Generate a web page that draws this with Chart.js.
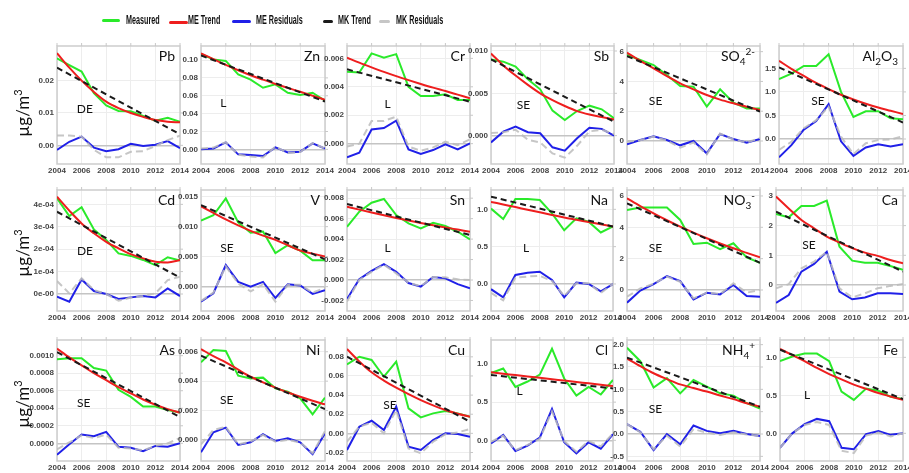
<!DOCTYPE html>
<html><head><meta charset="utf-8">
<script src="https://cdn.jsdelivr.net/npm/chart.js@4.4.1/dist/chart.umd.min.js"></script>
<style>
html,body{margin:0;padding:0;background:#fff;}
#wrap{position:relative;width:909px;height:473px;overflow:hidden;background:#fff;}
#wrap canvas{position:absolute;}
.ylab{position:absolute;font:17px Lato,sans-serif;color:#111;transform:translate(-50%,-50%) rotate(-90deg);white-space:nowrap;}
.sw{position:absolute;border-radius:2px;}
.lt{position:absolute;font:bold 12px "Liberation Sans",Arial,sans-serif;color:#111;line-height:14px;white-space:nowrap;transform:scaleX(0.6);transform-origin:left center;}
</style></head>
<body><div id="wrap"></div>
<script>
// ---------------- DATA ----------------
const years = [2004,2005,2006,2007,2008,2009,2010,2011,2012,2013,2014];
const mkYears = [2004,2014];
const xTicks = [2004,2006,2008,2010,2012,2014];
const xTickLabels = ['2004','2006','2008','2010','2012','2014'];

const panelNames = ['Pb','Zn','Cr','Sb','SO_{4}^{2-}','Al_{2}O_{3}','Cd','V','Sn','Na','NO_{3}^{-}','Ca','As','Ni','Cu','Cl','NH_{4}^{+}','Fe'];
const trendTypes = ['DE','L','L','SE','SE','SE','DE','SE','L','L','SE','SE','SE','SE','SE','L','SE','L'];

const Pb_measured = [0.0269,0.0248,0.0228,0.0161,0.0123,0.0106,0.0105,0.0091,0.0076,0.0085,0.0073];
const Pb_meTrend  = [0.0285,0.0240,0.0200,0.0165,0.0135,0.0115,0.0100,0.0088,0.0078,0.0073,0.0071];
const Pb_mkTrend  = [0.0240,0.0034];
const Pb_meResid  = [-0.0014,0.0011,0.0027,-0.0007,-0.0018,-0.0012,0.0005,-0.0002,0.0002,0.0013,-0.0009];
const Pb_mkResid  = [0.0030,0.0030,0.0027,-0.0014,-0.0037,-0.0037,-0.0020,-0.0018,-0.0002,0.0016,0.0030];
const Pb_yTicks = [0,0.01,0.02];
const Pb_yTickLabels = ['0.00','0.01','0.02'];

const Zn_measured = [0.1067,0.1007,0.0990,0.0840,0.0780,0.0690,0.0728,0.0634,0.0608,0.0634,0.0545];
const Zn_meTrend  = [0.1075,0.1010,0.0945,0.0885,0.0830,0.0780,0.0732,0.0688,0.0645,0.0600,0.0555];
const Zn_mkTrend  = [0.1050,0.0535];
const Zn_meResid  = [0.0000,0.0010,0.0078,-0.0056,-0.0063,-0.0075,0.0022,-0.0034,-0.0026,0.0067,0.0010];
const Zn_mkResid  = [0.0010,0.0020,0.0080,-0.0060,-0.0080,-0.0090,0.0030,-0.0040,-0.0030,0.0070,0.0010];
const Zn_yTicks = [0,0.02,0.04,0.06,0.08,0.10];
const Zn_yTickLabels = ['0.00','0.02','0.04','0.06','0.08','0.10'];

const Cr_measured = [0.00506,0.00500,0.00635,0.00605,0.00630,0.00400,0.00335,0.00335,0.00347,0.00307,0.00307];
const Cr_meTrend  = [0.00605,0.00570,0.00537,0.00505,0.00475,0.00447,0.00420,0.00394,0.00370,0.00345,0.00320];
const Cr_mkTrend  = [0.00523,0.00295];
const Cr_meResid  = [-0.00096,-0.00063,0.00100,0.00110,0.00162,-0.00040,-0.00073,-0.00045,-0.00005,-0.00040,0.00002];
const Cr_mkResid  = [-0.00020,0.00000,0.00160,0.00160,0.00190,-0.00020,-0.00050,-0.00026,0.00014,-0.00010,0.00030];
const Cr_yTicks = [0,0.002,0.004,0.006];
const Cr_yTickLabels = ['0.000','0.002','0.004','0.006'];

const Sb_measured = [0.00900,0.00874,0.00815,0.00665,0.00547,0.00295,0.00185,0.00291,0.00354,0.00311,0.00205];
const Sb_meTrend  = [0.00970,0.00830,0.00710,0.00600,0.00500,0.00420,0.00350,0.00290,0.00250,0.00220,0.00190];
const Sb_mkTrend  = [0.00900,0.00165];
const Sb_meResid  = [-0.00080,0.00047,0.00106,0.00040,0.00028,-0.00138,-0.00177,-0.00030,0.00094,0.00080,0.00000];
const Sb_mkResid  = [0.00030,0.00040,0.00070,-0.00050,-0.00080,-0.00210,-0.00260,-0.00120,0.00050,0.00070,0.00020];
const Sb_yTicks = [0,0.005,0.010];
const Sb_yTickLabels = ['0.000','0.005','0.010'];

const SO4_measured = [5.78,5.44,5.10,4.43,3.69,3.65,2.31,3.47,2.57,2.19,2.19];
const SO4_meTrend  = [5.93,5.38,4.88,4.35,3.87,3.47,3.09,2.78,2.53,2.30,2.08];
const SO4_mkTrend  = [5.70,1.97];
const SO4_meResid  = [-0.22,0.07,0.31,0.07,-0.29,0.00,-0.83,0.47,0.13,-0.11,0.13];
const SO4_mkResid  = [-0.05,0.05,0.30,0.03,-0.45,-0.10,-0.90,0.50,0.10,-0.10,0.20];
const SO4_yTicks = [0,2,4,6];
const SO4_yTickLabels = ['0','2','4','6'];

const Al2O3_measured = [1.27,1.39,1.55,1.55,1.80,1.00,0.47,0.59,0.59,0.44,0.42];
const Al2O3_meTrend  = [1.66,1.49,1.34,1.19,1.06,0.94,0.84,0.75,0.67,0.60,0.53];
const Al2O3_mkTrend  = [1.52,0.35];
const Al2O3_meResid  = [-0.39,-0.13,0.20,0.38,0.74,-0.05,-0.36,-0.18,-0.11,-0.16,-0.11];
const Al2O3_mkResid  = [-0.23,-0.06,0.23,0.40,0.69,0.05,-0.32,-0.09,-0.02,-0.01,0.06];
const Al2O3_yTicks = [0,0.5,1.0,1.5];
const Al2O3_yTickLabels = ['0.0','0.5','1.0','1.5'];

const Cd_measured = [4.27e-4,3.48e-4,3.87e-4,2.88e-4,2.41e-4,1.81e-4,1.70e-4,1.52e-4,1.29e-4,1.64e-4,1.49e-4];
const Cd_meTrend  = [4.34e-4,3.72e-4,3.15e-4,2.71e-4,2.33e-4,2.04e-4,1.78e-4,1.59e-4,1.44e-4,1.41e-4,1.52e-4];
const Cd_mkTrend  = [3.67e-4,0.73e-4];
const Cd_meResid  = [-0.12e-4,-0.34e-4,0.65e-4,0.13e-4,0.00,-0.22e-4,-0.15e-4,-0.09e-4,-0.15e-4,0.25e-4,-0.09e-4];
const Cd_mkResid  = [0.58e-4,0.03e-4,0.70e-4,0.18e-4,0.00,-0.30e-4,-0.16e-4,-0.09e-4,0.03e-4,0.62e-4,0.77e-4];
const Cd_yTicks = [0,1e-4,2e-4,3e-4,4e-4];
const Cd_yTickLabels = ['0e-00','1e-04','2e-04','3e-04','4e-04'];

const V_measured = [0.0110,0.0119,0.0147,0.0107,0.0090,0.0092,0.0056,0.0069,0.0060,0.0044,0.0044];
const V_meTrend  = [0.0134,0.0123,0.0112,0.0102,0.0093,0.0085,0.0078,0.0069,0.0060,0.0055,0.0050];
const V_mkTrend  = [0.0136,0.00456];
const V_meResid  = [-0.0025,-0.0011,0.0036,0.0008,0.0000,0.0008,-0.0019,0.0004,0.0002,-0.0012,-0.0006];
const V_mkResid  = [-0.0024,-0.0010,0.0034,0.0005,-0.0008,0.0004,-0.0025,0.0003,0.0003,-0.0010,-0.0002];
const V_yTicks = [0,0.005,0.010,0.015];
const V_yTickLabels = ['0.000','0.005','0.010','0.015'];

const Sn_measured = [0.00520,0.00668,0.00756,0.00792,0.00635,0.00554,0.00505,0.00560,0.00528,0.00472,0.00397];
const Sn_meTrend  = [0.00717,0.00688,0.00660,0.00633,0.00607,0.00582,0.00558,0.00536,0.00514,0.00493,0.00472];
const Sn_mkTrend  = [0.00743,0.00440];
const Sn_meResid  = [-0.00186,0.00007,0.00090,0.00156,0.00080,-0.00030,-0.00065,0.00030,0.00016,-0.00040,-0.00080];
const Sn_mkResid  = [-0.00210,0.00000,0.00080,0.00150,0.00065,-0.00026,-0.00060,0.00030,0.00026,0.00007,0.00000];
const Sn_yTicks = [-0.002,0,0.002,0.004,0.006,0.008];
const Sn_yTickLabels = ['-0.002','0.000','0.002','0.004','0.006','0.008'];

const Na_measured = [1.01,0.87,1.14,1.14,1.125,0.946,0.72,0.88,0.835,0.69,0.77];
const Na_meTrend  = [1.10,1.065,1.03,0.995,0.96,0.925,0.89,0.86,0.83,0.80,0.77];
const Na_mkTrend  = [1.17,0.77];
const Na_meResid  = [-0.07,-0.18,0.12,0.15,0.165,0.054,-0.18,0.018,0.00,-0.10,0.00];
const Na_mkResid  = [-0.12,-0.22,0.085,0.10,0.11,0.04,-0.16,0.01,0.01,-0.12,0.00];
const Na_yTicks = [0,0.5,1.0];
const Na_yTickLabels = ['0.0','0.5','1.0'];

const NO3_measured = [5.10,5.26,5.26,5.26,4.47,2.94,3.02,2.60,2.98,2.08,1.74];
const NO3_meTrend  = [5.85,5.35,4.89,4.45,4.04,3.66,3.30,2.97,2.66,2.37,2.08];
const NO3_mkTrend  = [5.53,1.74];
const NO3_meResid  = [-0.81,-0.04,0.38,0.89,0.57,-0.60,-0.17,-0.28,0.32,-0.38,-0.43];
const NO3_mkResid  = [-0.43,0.10,0.40,0.85,0.53,-0.53,-0.17,-0.26,0.43,-0.17,0.00];
const NO3_yTicks = [0,2,4,6];
const NO3_yTickLabels = ['0','2','4','6'];

const Ca_measured = [2.39,2.28,2.66,2.66,2.84,1.29,0.82,0.75,0.75,0.64,0.51];
const Ca_meTrend  = [2.98,2.58,2.19,1.91,1.63,1.43,1.24,1.09,0.98,0.84,0.73];
const Ca_mkTrend  = [2.47,0.45];
const Ca_meResid  = [-0.60,-0.34,0.45,0.71,1.12,-0.22,-0.48,-0.42,-0.28,-0.28,-0.30];
const Ca_mkResid  = [-0.11,0.03,0.56,0.79,1.12,-0.11,-0.42,-0.28,-0.11,-0.03,0.03];
const Ca_yTicks = [0,1,2,3];
const Ca_yTickLabels = ['0','1','2','3'];

const As_measured = [0.00096,0.00097,0.00097,0.00086,0.00083,0.00061,0.00053,0.00042,0.00042,0.00038,0.00035];
const As_meTrend  = [0.00108,0.00098,0.00089,0.00080,0.00072,0.00064,0.00057,0.00050,0.00044,0.00039,0.00035];
const As_mkTrend  = [0.00104,0.00030];
const As_meResid  = [-0.00013,-0.00001,0.00010,0.00008,0.00013,-0.00004,-0.00005,-0.00009,-0.00003,-0.00004,0.00000];
const As_mkResid  = [-0.00007,0.00001,0.00009,0.00006,0.00010,-0.00005,-0.00006,-0.00008,-0.00003,0.00000,0.00006];
const As_yTicks = [0,0.0002,0.0004,0.0006,0.0008,0.0010];
const As_yTickLabels = ['0.0000','0.0002','0.0004','0.0006','0.0008','0.0010'];

const Ni_measured = [0.00528,0.00612,0.00605,0.00437,0.00419,0.00424,0.00351,0.00328,0.00283,0.00174,0.00288];
const Ni_meTrend  = [0.00618,0.00570,0.00528,0.00478,0.00430,0.00392,0.00356,0.00323,0.00294,0.00267,0.00242];
const Ni_mkTrend  = [0.00573,0.00210];
const Ni_meResid  = [-0.00084,0.00052,0.00084,-0.00034,-0.00016,0.00039,-0.00007,0.00011,-0.00016,-0.00097,0.00045];
const Ni_mkResid  = [-0.00030,0.00068,0.00090,-0.00030,-0.00011,0.00034,-0.00011,0.00000,-0.00016,-0.00090,0.00060];
const Ni_yTicks = [0,0.002,0.004,0.006];
const Ni_yTickLabels = ['0.000','0.002','0.004','0.006'];

const Cu_measured = [0.0721,0.0801,0.0767,0.0592,0.0749,0.0261,0.0167,0.0209,0.0233,0.0209,0.0174];
const Cu_meTrend  = [0.0882,0.0752,0.0638,0.0552,0.0477,0.0410,0.0348,0.0293,0.0244,0.0205,0.0174];
const Cu_mkTrend  = [0.0801,0.0122];
const Cu_meResid  = [-0.0174,0.0070,0.0132,0.0035,0.0279,-0.0139,-0.0174,-0.0070,0.0000,-0.0007,-0.0035];
const Cu_mkResid  = [-0.0087,0.0070,0.0110,0.0000,0.0244,-0.0157,-0.0209,-0.0087,-0.0010,0.0010,0.0045];
const Cu_yTicks = [-0.02,0,0.02,0.04,0.06,0.08];
const Cu_yTickLabels = ['-0.02','0.00','0.02','0.04','0.06','0.08'];

const Cl_measured = [0.88,0.94,0.70,0.77,0.86,1.20,0.81,0.585,0.70,0.60,0.79];
const Cl_meTrend  = [0.89,0.872,0.854,0.836,0.818,0.80,0.782,0.764,0.746,0.728,0.71];
const Cl_mkTrend  = [0.856,0.68];
const Cl_meResid  = [-0.04,0.07,-0.14,-0.07,0.035,0.41,-0.026,-0.17,-0.026,-0.11,0.08];
const Cl_mkResid  = [-0.02,0.06,-0.13,-0.06,0.02,0.38,-0.01,-0.15,-0.01,-0.08,0.09];
const Cl_yTicks = [0,0.5,1.0];
const Cl_yTickLabels = ['0.0','0.5','1.0'];

const NH4_measured = [1.93,1.63,1.04,1.25,0.91,1.21,1.06,0.91,0.86,0.69,0.57];
const NH4_meTrend  = [1.69,1.52,1.36,1.23,1.11,1.03,0.95,0.86,0.78,0.69,0.61];
const NH4_mkTrend  = [1.71,0.61];
const NH4_meResid  = [0.22,0.05,-0.36,0.00,-0.23,0.19,0.07,0.015,0.07,0.00,-0.045];
const NH4_mkResid  = [0.22,0.04,-0.34,-0.04,-0.28,0.11,0.03,-0.02,0.04,-0.01,-0.045];
const NH4_yTicks = [-0.5,0,0.5,1.0,1.5,2.0];
const NH4_yTickLabels = ['-0.5','0.0','0.5','1.0','1.5','2.0'];

const Fe_measured = [0.95,1.01,1.05,1.05,0.95,0.55,0.44,0.59,0.56,0.48,0.45];
const Fe_meTrend  = [1.11,1.03,0.95,0.86,0.78,0.71,0.64,0.585,0.53,0.485,0.44];
const Fe_mkTrend  = [1.10,0.45];
const Fe_meResid  = [-0.19,0.00,0.12,0.19,0.16,-0.19,-0.21,-0.01,0.03,-0.02,0.00];
const Fe_mkResid  = [-0.19,0.00,0.11,0.15,0.11,-0.23,-0.26,-0.03,0.01,-0.04,0.00];
const Fe_yTicks = [0,0.5,1.0];
const Fe_yTickLabels = ['0.0','0.5','1.0'];

// ---------------- TABLE (built from the arrays above) ----------------
const seriesTable = [
  [Pb_measured,Pb_meTrend,Pb_mkTrend,Pb_meResid,Pb_mkResid,Pb_yTicks,Pb_yTickLabels],
  [Zn_measured,Zn_meTrend,Zn_mkTrend,Zn_meResid,Zn_mkResid,Zn_yTicks,Zn_yTickLabels],
  [Cr_measured,Cr_meTrend,Cr_mkTrend,Cr_meResid,Cr_mkResid,Cr_yTicks,Cr_yTickLabels],
  [Sb_measured,Sb_meTrend,Sb_mkTrend,Sb_meResid,Sb_mkResid,Sb_yTicks,Sb_yTickLabels],
  [SO4_measured,SO4_meTrend,SO4_mkTrend,SO4_meResid,SO4_mkResid,SO4_yTicks,SO4_yTickLabels],
  [Al2O3_measured,Al2O3_meTrend,Al2O3_mkTrend,Al2O3_meResid,Al2O3_mkResid,Al2O3_yTicks,Al2O3_yTickLabels],
  [Cd_measured,Cd_meTrend,Cd_mkTrend,Cd_meResid,Cd_mkResid,Cd_yTicks,Cd_yTickLabels],
  [V_measured,V_meTrend,V_mkTrend,V_meResid,V_mkResid,V_yTicks,V_yTickLabels],
  [Sn_measured,Sn_meTrend,Sn_mkTrend,Sn_meResid,Sn_mkResid,Sn_yTicks,Sn_yTickLabels],
  [Na_measured,Na_meTrend,Na_mkTrend,Na_meResid,Na_mkResid,Na_yTicks,Na_yTickLabels],
  [NO3_measured,NO3_meTrend,NO3_mkTrend,NO3_meResid,NO3_mkResid,NO3_yTicks,NO3_yTickLabels],
  [Ca_measured,Ca_meTrend,Ca_mkTrend,Ca_meResid,Ca_mkResid,Ca_yTicks,Ca_yTickLabels],
  [As_measured,As_meTrend,As_mkTrend,As_meResid,As_mkResid,As_yTicks,As_yTickLabels],
  [Ni_measured,Ni_meTrend,Ni_mkTrend,Ni_meResid,Ni_mkResid,Ni_yTicks,Ni_yTickLabels],
  [Cu_measured,Cu_meTrend,Cu_mkTrend,Cu_meResid,Cu_mkResid,Cu_yTicks,Cu_yTickLabels],
  [Cl_measured,Cl_meTrend,Cl_mkTrend,Cl_meResid,Cl_mkResid,Cl_yTicks,Cl_yTickLabels],
  [NH4_measured,NH4_meTrend,NH4_mkTrend,NH4_meResid,NH4_mkResid,NH4_yTicks,NH4_yTickLabels],
  [Fe_measured,Fe_meTrend,Fe_mkTrend,Fe_meResid,Fe_mkResid,Fe_yTicks,Fe_yTickLabels]
];

// ---------------- LAYOUT (plot box px, y-range, label anchor in data units) ----------------
const rowsTB = [[46,164],[190,311],[340,461]];
const colsLR = [
  [[57,180],[201,325],[347,470],[491,614],[627,760],[779,903]],
  [[57,180],[201,325],[347,470],[491,613],[627,760],[776,903]],
  [[57,180],[201,325],[347,470],[491,613],[627,760],[780,903]]
];
const yRanges = [
  [-0.00577,0.0307],[-0.0164,0.1157],[-0.00143,0.00687],[-0.00335,0.01059],[-1.545,6.38],[-0.531,1.975],
  [-0.758e-4,4.64e-4],[-0.00406,0.01611],[-0.00303,0.0088],[-0.362,1.259],[-1.34,6.38],[-0.876,3.2],
  [-0.000202,0.001179],[-0.00143,0.0068],[-0.0289,0.0976],[-0.271,1.314],[-0.604,2.104],[-0.364,1.228]
];
const labelAnchors = [
  [2006.26,0.0111],[2005.8,0.0515],[2007.3,0.00279],[2006.64,0.00362],[2006.15,2.71],[2007.14,0.81],
  [2006.27,1.93e-4],[2006.1,0.0064],[2007.3,0.0031],[2006.88,0.48],[2006.14,2.66],[2006.6,1.35],
  [2006.17,0.000456],[2006.08,0.00272],[2007.5,0.0296],[2006.34,0.646],[2006.14,0.56],[2006.2,0.5]
];

const C_GREEN='#2aea2a', C_RED='#ee1e1e', C_BLUE='#2020e8', C_BLACK='#1a1a1a', C_GRAY='rgba(188,188,188,0.85)';

function parseTitle(s){
  const parts=[]; const re=/([_^])\{([^}]*)\}|([^_^]+)/g; let m;
  while((m=re.exec(s))){ if(m[3]) parts.push([m[3],0]); else parts.push([m[2], m[1]==='_'?-1:1]); }
  return parts;
}

const framePlugin = {
  id:'frame',
  beforeDatasetsDraw(chart){
    const {ctx, chartArea:a, scales:{x,y}} = chart;
    ctx.save();
    ctx.strokeStyle='#cdcdcd'; ctx.lineWidth=1.5;
    ctx.strokeRect(a.left,a.top,a.right-a.left,a.bottom-a.top);
    ctx.lineWidth=1; ctx.strokeStyle='#c8c8c8'; ctx.beginPath();
    x.ticks.forEach(t=>{const px=x.getPixelForValue(t.value); ctx.moveTo(px,a.top); ctx.lineTo(px,a.top-3);});
    y.ticks.forEach(t=>{const py=y.getPixelForValue(t.value); ctx.moveTo(a.right,py); ctx.lineTo(a.right+3,py);});
    ctx.stroke(); ctx.restore();
  }
};

const textPlugin = {
  id:'panelText',
  afterDatasetsDraw(chart, args, opts){
    const {ctx, chartArea:a, scales:{x,y}} = chart;
    ctx.save();
    ctx.fillStyle='#111'; ctx.textBaseline='alphabetic'; ctx.textAlign='left';
    const parts = parseTitle(opts.title);
    const big='14px Lato', small='10px Lato';
    let w=0; parts.forEach(p=>{ctx.font=p[1]?small:big; w+=ctx.measureText(p[0]).width;});
    let px=a.right-5-w; const base=a.top+15;
    parts.forEach(p=>{ctx.font=p[1]?small:big; const dy=p[1]===-1?4:(p[1]===1?-6:0); ctx.fillText(p[0],px,base+dy); px+=ctx.measureText(p[0]).width;});
    ctx.font='12px Lato'; ctx.textAlign='center'; ctx.textBaseline='middle';
    ctx.fillText(opts.label, x.getPixelForValue(opts.lx), y.getPixelForValue(opts.ly));
    ctx.restore();
  }
};

const wrap = document.getElementById('wrap');
const tickFont = {family:'"Liberation Sans", Arial, sans-serif', size:8, weight:'bold'};
const pts = (xs, ys) => ys.map((v,i)=>({x:xs[i], y:v}));

for (let i=0;i<18;i++){
  const r=Math.floor(i/6), c=i%6;
  const [T,B]=rowsTB[r]; const [L,R]=colsLR[r][c];
  const yw = c===0 ? 57 : 45;
  const padT=8, padR=12, xh=14;
  const cv=document.createElement('canvas');
  cv.width = yw+(R-L)+padR; cv.height = padT+(B-T)+xh;
  cv.style.left=(L-yw)+'px'; cv.style.top=(T-padT)+'px';
  wrap.appendChild(cv);
  const [meas, meT, mkT, meR, mkR, yt, yl] = seriesTable[i];
  new Chart(cv, {
    type:'line',
    data:{datasets:[
      {label:'MK Residuals', data:pts(years,mkR), borderColor:C_GRAY, borderDash:[7,4], order:1},
      {label:'ME Residuals', data:pts(years,meR), borderColor:C_BLUE, order:2},
      {label:'MK Trend', data:pts(mkYears,mkT), borderColor:C_BLACK, borderDash:[6,4], order:3},
      {label:'ME Trend', data:pts(years,meT), borderColor:C_RED, cubicInterpolationMode:'monotone', order:4},
      {label:'Measured', data:pts(years,meas), borderColor:C_GREEN, order:5}
    ]},
    options:{
      responsive:false, animation:false, devicePixelRatio:1,
      layout:{padding:{left:0,top:padT,right:padR,bottom:0}},
      elements:{point:{radius:0,hoverRadius:0}, line:{borderWidth:2, tension:0, fill:false}},
      plugins:{legend:{display:false}, tooltip:{enabled:false},
        panelText:{title:panelNames[i], label:trendTypes[i], lx:labelAnchors[i][0], ly:labelAnchors[i][1]}},
      scales:{
        x:{type:'linear', min:2004, max:2014,
          afterBuildTicks:s=>{s.ticks=xTicks.map(v=>({value:v}));},
          ticks:{autoSkip:false, maxRotation:0, padding:2, color:'#444', font:tickFont,
            callback:v=>xTickLabels[xTicks.indexOf(v)]},
          grid:{color:'#ededed', lineWidth:1, drawTicks:false},
          border:{display:false},
          afterFit:s=>{s.height=xh;}},
        y:{type:'linear', min:yRanges[i][0], max:yRanges[i][1],
          afterBuildTicks:s=>{s.ticks=yt.map(v=>({value:v}));},
          ticks:{autoSkip:false, padding:3, color:'#444', font:tickFont,
            callback:v=>yl[yt.indexOf(v)]},
          grid:{color:ctx=>(ctx.tick&&ctx.tick.value===0)?'#c4c4c4':'#ededed',
                lineWidth:ctx=>(ctx.tick&&ctx.tick.value===0)?1.5:1, drawTicks:false},
          border:{display:false},
          afterFit:s=>{s.width=yw;}}
      }
    },
    plugins:[framePlugin,textPlugin]
  });
}

// y-axis titles
[[22,113],[22,253],[22,404]].forEach(p=>{
  const d=document.createElement('div'); d.className='ylab';
  d.innerHTML='\u00b5g/m<sup style="font-size:11px">3</sup>';
  d.style.left=p[0]+'px'; d.style.top=p[1]+'px'; wrap.appendChild(d);
});

// legend
const legendItems = [
  ['Measured',C_GREEN,102,18,19,3,126],
  ['ME Trend',C_RED,169,19,20.5,3,188],
  ['ME Residuals',C_BLUE,232,19,19.5,3,256],
  ['MK Trend',C_BLACK,323,10,19.5,3.5,338],
  ['MK Residuals','#c6c6c6',379,11,19.5,3.5,396]
];
legendItems.forEach(([t,col,sx,swd,sy,sh,tx])=>{
  const s=document.createElement('div'); s.className='sw';
  s.style.cssText+=`left:${sx}px;top:${sy}px;width:${swd}px;height:${sh}px;background:${col};`;
  wrap.appendChild(s);
  const l=document.createElement('div'); l.className='lt'; l.textContent=t;
  l.style.left=tx+'px'; l.style.top='12.5px'; wrap.appendChild(l);
});
</script>
</body></html>
